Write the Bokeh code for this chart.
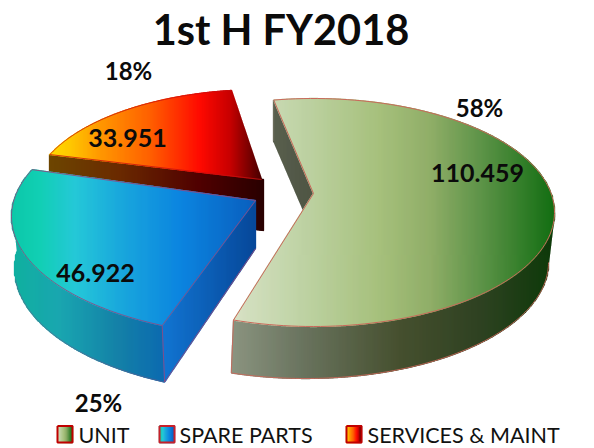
import numpy as np
from bokeh.plotting import figure
from bokeh.models import Range1d
from bokeh.core.properties import value
from bokeh.embed import file_html
from bokeh.resources import INLINE

categories = ["UNIT", "SPARE PARTS", "SERVICES & MAINT"]
amounts = [110.459, 46.922, 33.951]
percent_labels = ["58%", "25%", "18%"]
amount_labels = ["110.459", "46.922", "33.951"]
title_text = "1st H FY2018"

total = sum(amounts)

# layout of each slice, in picture pixels
U = dict(apex=(313, 193), top=(313, 212, 241, 114), bot=(305, 262, 243, 116), start=99.5, stretch=1.005, depth=40, bot_shift=1.6, outline="#C9685A")
S = dict(apex=(255, 200), top=(270, 216, 259, 120), bot=(272, 268, 258, 125), start=157.0, stretch=1.0, depth=48, outline="#8F4A80")
M = dict(apex=(261, 179), top=(261, 196, 230, 107), bot=(261, 246, 230, 107), start=97.5, stretch=0.93, depth=50, outline="#C81010")

U_top = [(232, "#D8E2C6"), (300, "#BFD3A5"), (380, "#A6C07C"), (430, "#90AE68"), (480, "#5F9449"), (554, "#136E13")]
U_wall = [(232, "#8B9480"), (300, "#6B7560"), (400, "#46502F"), (480, "#2F4222"), (552, "#0E3A0A")]
U_cut = [(273, "#595F4E"), (313, "#4F5544")]
S_top = [(10, "#0CC8A8"), (40, "#12CFB4"), (75, "#25C8D8"), (120, "#1AA8DC"), (180, "#0C85E0"), (255, "#0A5FBE")]
S_wall = [(14, "#10B0A0"), (60, "#1AA6B0"), (120, "#1480A8"), (165, "#0C6AB0")]
S_cut = [(165, "#1274D0"), (255, "#07489A")]
M_top = [(45, "#FFE000"), (70, "#FFC800"), (100, "#FF9800"), (150, "#FF6000"), (200, "#FF0A00"), (230, "#C80000"), (261, "#4A0000")]
M_cut = [(45, "#6E4800"), (120, "#6A2A00"), (200, "#500000"), (263, "#2A0000")]

p = figure(width=594, height=448, x_range=Range1d(0, 594), y_range=Range1d(448, 0),
           output_backend="svg", toolbar_location=None, min_border=0)
p.axis.visible = False
p.grid.visible = False
p.outline_line_color = None


def hex_rgb(c):
    return [int(c[i:i + 2], 16) for i in (1, 3, 5)]


def colour_at(stops, x):
    xs = [s[0] for s in stops]
    rgb = np.array([hex_rgb(s[1]) for s in stops], float)
    return "#%02X%02X%02X" % tuple(int(round(np.interp(x, xs, rgb[:, i]))) for i in range(3))


def gradient_fill(poly, stops, step=1.0):
    """Cut a polygon into thin upright bands, each in the colour of the gradient at its x."""
    pts = [(float(q[0]), float(q[1])) for q in poly]
    edges = [(pts[i], pts[(i + 1) % len(pts)]) for i in range(len(pts))]
    lo = np.floor(min(q[0] for q in pts))
    hi = max(q[0] for q in pts)
    xs, ys, cols = [], [], []
    x = lo
    while x < hi:
        xm = x + step / 2
        hits = []
        for (ax, ay), (bx, by) in edges:
            if min(ax, bx) <= xm < max(ax, bx):
                k = (by - ay) / (bx - ax)
                y_lo, y_hi = min(ay, by), max(ay, by)
                yl = min(max(ay + k * (x - ax), y_lo), y_hi)
                yr = min(max(ay + k * (x + step - ax), y_lo), y_hi)
                hits.append((ay + k * (xm - ax), yl, yr))
        hits.sort()
        col = colour_at(stops, xm)
        for j in range(0, len(hits) - 1, 2):
            _, yl0, yr0 = hits[j]
            _, yl1, yr1 = hits[j + 1]
            xs.append([x, x + step, x + step, x])
            ys.append([yl0, yr0, yr1, yl1])
            cols.append(col)
        x += step
    p.patches(xs, ys, fill_color=cols, fill_alpha=1.0, line_color=cols, line_alpha=1.0, line_width=1.3)


def ell(e, t):
    r = np.radians(t)
    return (e[0] + e[2] * np.cos(r), e[1] - e[3] * np.sin(r))


def arc(e, t0, t1, n=120):
    return [ell(e, t) for t in np.linspace(t0, t1, n)]


def sweep(i, cfg):
    return amounts[i] / total * 360 * cfg["stretch"]


def outline(poly, colour, w=1.1):
    xs = [float(q[0]) for q in poly]
    ys = [float(q[1]) for q in poly]
    p.line(xs, ys, line_color=colour, line_width=w)


# ---- SERVICES & MAINT
t0 = M["start"]
t1 = t0 + sweep(2, M)
a = M["apex"]
c1 = ell(M["top"], t1)
gradient_fill([c1, (c1[0], c1[1] + 50), (a[0] + 2, a[1] + M["depth"] + 1), (a[0] + 2, a[1]), a], M_cut)
top = [a] + arc(M["top"], t0, t1)
gradient_fill(top, M_top)
outline(top[1:] + [a], M["outline"], 0.8)

# ---- SPARE PARTS
t0 = S["start"]
t1 = t0 + sweep(1, S)
a = S["apex"]
c1, b1 = ell(S["top"], t1), ell(S["bot"], t1)
front0 = max(t0, 172)
wall = arc(S["top"], front0, t1) + arc(S["bot"], t1, front0)
gradient_fill(wall, S_wall)
cut = [c1, b1, (a[0], a[1] + S["depth"]), a]
gradient_fill(cut, S_cut)
top = [a] + arc(S["top"], t0, t1)
gradient_fill(top, S_top)
outline(top + [a], S["outline"], 0.9)
outline([c1, b1, (a[0], a[1] + S["depth"])], S["outline"], 0.9)
outline(arc(S["bot"], 185, t1), "#6C5A8C", 0.6)

# ---- UNIT (clockwise on screen through the right-hand side)
t0 = U["start"]
tb = t0 - sweep(0, U)
tb2 = tb + U["bot_shift"]
a = U["apex"]
c0 = ell(U["top"], t0)
gradient_fill([c0, a, (a[0], a[1] + 40), (c0[0], c0[1] + U["depth"] + 1)], U_cut)
wall = arc(U["top"], 0, tb) + arc(U["bot"], tb2, 0)
gradient_fill(wall, U_wall)
top = [a] + arc(U["top"], t0, tb)
gradient_fill(top, U_top)
outline(top + [a], U["outline"], 1.0)
outline(arc(U["bot"], 0, tb2), U["outline"], 0.9)
outline([ell(U["top"], tb), ell(U["bot"], tb2)], U["outline"], 0.9)
outline([c0, (c0[0], c0[1] + U["depth"] + 1)], "#7A7A66", 0.7)

# ---- texts
ink = "#0B0B0B"
p.text([280.5], [28], text=[title_text], text_font=value("Lato"), text_font_style="bold",
       text_font_size="41.5px", text_align="center", text_baseline="middle", text_color=ink)
p.text([479, 98, 128], [107, 402, 70], text=percent_labels, text_font=value("Lato"),
       text_font_style="bold", text_font_size="24px", text_align="center", text_baseline="middle", text_color=ink)
p.text([477, 95, 127], [172, 272, 137], text=amount_labels, text_font=value("Lato"),
       text_font_style="bold", text_font_size="25px", text_align="center", text_baseline="middle", text_color=ink)

# ---- legend
swatch_x = [57, 159, 346]
label_x = [78, 179, 367]
swatch_stops = [U_top, S_top, M_top]
for sx, lx, name, stops in zip(swatch_x, label_x, categories, swatch_stops):
    lo, hi = stops[0][0], stops[-1][0]
    scaled = [(sx + (s[0] - lo) / (hi - lo) * 15, s[1]) for s in stops]
    box = [(sx, 425.5), (sx + 15, 425.5), (sx + 15, 442), (sx, 442)]
    gradient_fill(box, scaled, step=1.0)
    border = "#C00000" if name != "SPARE PARTS" else "#C8202A"
    outline(box + [box[0]], border, 2.0)
    p.text([lx], [434], text=[name], text_font=value("Lato"), text_font_size="21.5px",
           text_align="left", text_baseline="middle", text_color="#111111")

open("out.html", "w").write(file_html(p, INLINE))
